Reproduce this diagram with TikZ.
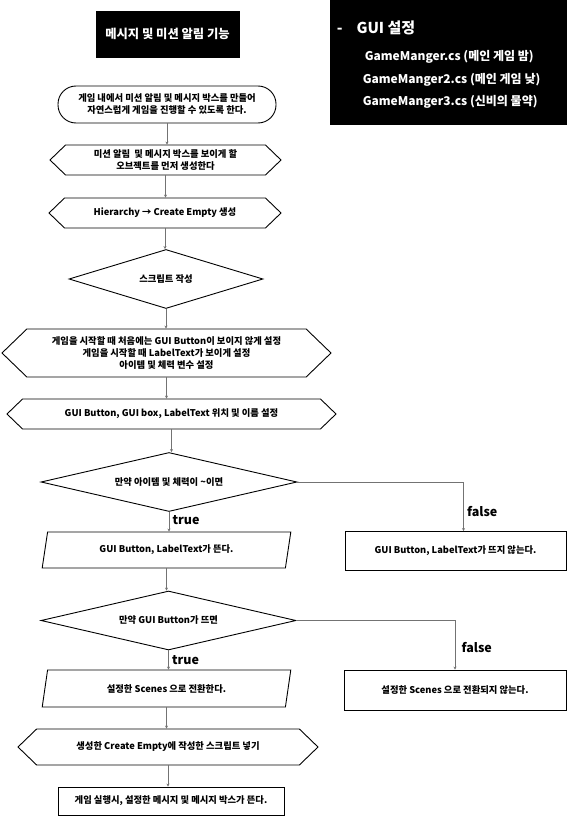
\documentclass[tikz,border=0pt]{standalone}
\usepackage{fontspec}
\setmainfont{Noto Sans CJK KR}
\usetikzlibrary{shapes.geometric,shapes.symbols,arrows.meta}

\begin{document}
\begin{tikzpicture}[x=1pt,y=-1pt,font=\bfseries\fontsize{9.3}{12}\selectfont,line width=0.9pt,
  hexa/.style={draw,signal,signal to=west and east,signal pointer angle=88,inner sep=0pt,align=center},
  dec/.style={draw,diamond,inner sep=0pt,align=center},
  para/.style={draw,trapezium,trapezium left angle=73,trapezium right angle=107,trapezium stretches=true,inner sep=0pt,align=center},
  box/.style={draw,rectangle,inner sep=0pt,align=center},
  tag/.style={font=\bfseries\fontsize{12.5}{14}\selectfont},
  line/.style={draw=black!55,line width=0.6pt,-{Stealth[length=3pt,width=3pt]}}]
\useasboundingbox (0,0) rectangle (567,816);

\node[box,fill=black,text=white,minimum width=143,minimum height=46,font=\bfseries\fontsize{12.3}{14}\selectfont] (title) at (167.5,34) {메시지 및 미션 알림 기능};

\node[box,fill=black,minimum width=237,minimum height=124,anchor=north west] (gui) at (330,0) {};
\node[text=white,anchor=west,font=\bfseries\fontsize{15}{17}\selectfont] (guihead) at (333,28) {-\hspace{14pt}GUI 설정};
\node[text=white,anchor=west,font=\bfseries\fontsize{12}{14}\selectfont] (gm1) at (361,57) {GameManger.cs (메인 게임 밤)};
\node[text=white,anchor=west,font=\bfseries\fontsize{12}{14}\selectfont] (gm2) at (359,80) {GameManger2.cs (메인 게임 낮)};
\node[text=white,anchor=west,font=\bfseries\fontsize{12}{14}\selectfont] (gm3) at (359,102) {GameManger3.cs (신비의 물약)};

\node[box,rounded corners=18pt,minimum width=218,minimum height=37] (start) at (167,104.5)
  {게임 내에서 미션 알림 및 메시지 박스를 만들어\\자연스럽게 게임을 진행할 수 있도록 한다.};
\node[hexa,minimum width=231,minimum height=30] (hex1) at (165.5,160)
  {미션 알림\ \ 및 메시지 박스를 보이게 할\\오브젝트를 먼저 생성한다};
\node[hexa,minimum width=232,minimum height=30] (hex2) at (165,213) {Hierarchy → Create Empty 생성};
\node[dec,aspect=3.29,minimum width=194,minimum height=59] (d1) at (166,279) {스크립트 작성};
\node[hexa,minimum width=329,minimum height=48] (hex3) at (166.5,353)
  {게임을 시작할 때 처음에는 GUI Button이 보이지 않게 설정\\게임을 시작할 때 LabelText가 보이게 설정\\아이템 및 체력 변수 설정};
\node[hexa,minimum width=329,minimum height=30] (hex4) at (171.5,414) {GUI Button, GUI box, LabelText 위치 및 이름 설정};
\node[dec,aspect=4.34,minimum width=256,minimum height=59] (d2) at (169,482) {만약 아이템 및 체력이 \textasciitilde 이면};
\node[para,minimum width=249,minimum height=36] (p1) at (166.5,550) {GUI Button, LabelText가 뜬다.};
\node[box,minimum width=221,minimum height=39] (f1) at (455.5,551) {GUI Button, LabelText가 뜨지 않는다.};
\node[dec,aspect=4.32,minimum width=255,minimum height=59] (d3) at (168.5,620.5) {만약 GUI Button가 뜨면};
\node[para,minimum width=249,minimum height=37] (p2) at (166.5,688.5) {설정한 Scenes 으로 전환한다.};
\node[box,minimum width=222,minimum height=40] (f2) at (455,690) {설정한 Scenes 으로 전환되지 않는다.};
\node[hexa,minimum width=300,minimum height=36] (hex5) at (168,747) {생성한 Create Empty에 작성한 스크립트 넣기};
\node[box,minimum width=226,minimum height=28] (final) at (171,801) {게임 실행시, 설정한 메시지 및 메시지 박스가 뜬다.};

\draw[line] (start.south) -- (start.south |- hex1.north);
\draw[line] (hex1.south) -- (hex1.south |- hex2.north);
\draw[line] (hex2.south) -- (hex2.south |- d1.north);
\draw[line] (d1.south) -- (d1.south |- hex3.north);
\draw[line] (hex3.south) -- (hex3.south |- hex4.north);
\draw[line] (hex4.south) -- (hex4.south |- d2.north);
\draw[line] (d2.south) -- (d2.south |- p1.north) node[tag,pos=0.4,right] {true};
\draw[line] (d2.east) -| ([xshift=8pt]f1.north) node[tag,pos=0.8,right] {false};
\draw[line] (p1.south) -- (p1.south |- d3.north);
\draw[line] (d3.south) -- (d3.south |- p2.north) node[tag,pos=0.5,right] {true};
\draw[line] (d3.east) -| (f2.north) node[tag,pos=0.78,right,xshift=3pt] {false};
\draw[line] (p2.south) -- (p2.south |- hex5.north);
\draw[line] (hex5.south) -- (hex5.south |- final.north);
\end{tikzpicture}
\end{document}
